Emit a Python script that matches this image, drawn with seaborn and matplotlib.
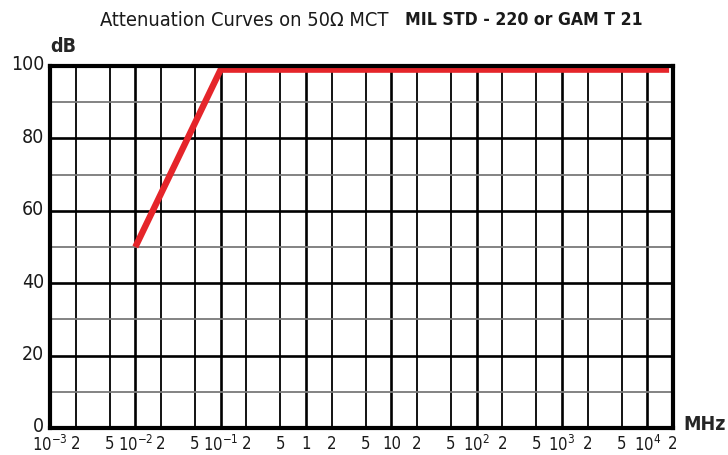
import matplotlib
matplotlib.use("Agg")
import matplotlib.pyplot as plt
import matplotlib.transforms as mtransforms
import seaborn as sns
import pandas as pd
import numpy as np
from matplotlib.ticker import FixedLocator, FixedFormatter, NullLocator

# Data
freq_mhz = [0.01, 0.1, 1.8e4]
atten_db = [50, 99, 99]

decades = [1e-3, 1e-2, 1e-1, 1, 10, 1e2, 1e3, 1e4]
decade_labels = [r"$10^{-3}$", r"$10^{-2}$", r"$10^{-1}$", "1", "10", r"$10^{2}$", r"$10^{3}$", r"$10^{4}$"]
y_ticks = [0, 20, 40, 60, 80, 100]
title_light = "Attenuation Curves on 50Ω MCT"
title_bold = "MIL STD - 220 or GAM T 21"

sns.set_theme(style="white")
plt.rcParams['font.family'] = ['DejaVu Sans']
plt.rcParams['font.stretch'] = 'condensed'
plt.rcParams['mathtext.fontset'] = 'dejavusans'

fig = plt.figure(figsize=(7.28, 4.55), dpi=100)
ax = fig.add_axes([50/728, 1-428/455, (673-50)/728, (428-66)/455])

df = pd.DataFrame({"MHz": freq_mhz, "dB": atten_db})
sns.lineplot(data=df, x="MHz", y="dB", ax=ax, color="#e5252a", linewidth=4.6,
             solid_capstyle="butt", zorder=5)

ax.set_xscale("log")
ax.set_xlim(1e-3, 2e4)
ax.set_ylim(0, 100)

# grid lines
for i, d in enumerate(decades):
    if 0 < i:
        ax.axvline(d, color="black", lw=1.9, zorder=2)
    for m in (2, 5):
        ax.axvline(d*m, color="black", lw=1.3, zorder=2)
for yv in range(10, 100, 10):
    if yv % 20 == 0:
        ax.axhline(yv, color="black", lw=1.9, zorder=2)
    else:
        ax.axhline(yv, color="#7a7a7a", lw=1.3, zorder=2)

# tick labels
pos, labs = [], []
for d, lab in zip(decades, decade_labels):
    pos += [d, d*2]
    labs += [lab, "2"]
    if d < 1e4:
        pos.append(d*5)
        labs.append("5")
ax.xaxis.set_major_locator(FixedLocator(pos))
ax.xaxis.set_major_formatter(FixedFormatter(labs))
ax.xaxis.set_minor_locator(NullLocator())
ax.set_yticks(y_ticks)
ax.tick_params(axis="x", length=0, labelsize=12, colors="#1a1a1a", pad=5)
ax.tick_params(axis="y", length=0, labelsize=14, colors="#1a1a1a", pad=4)

for s in ax.spines.values():
    s.set_visible(True)
    s.set_color("black")
    s.set_linewidth(3)
    s.set_zorder(6)

ax.set_xlabel("")
ax.set_ylabel("")

# nudge y tick labels slightly upward like the reference
offset = mtransforms.ScaledTranslation(0, 3/100, fig.dpi_scale_trans)
for lab in ax.get_yticklabels():
    lab.set_transform(lab.get_transform() + offset)

fig.text(50/728, 1-47/455, "dB", fontsize=14, fontweight="bold", ha="left", va="center")
fig.text(683/728, 1-425/455, "MHz", fontsize=14, fontweight="bold", ha="left", va="center")

fig.text(100/728, 1-20/455, title_light, fontsize=14.4, ha="left", va="center", color="#1a1a1a")
fig.text(405/728, 1-20/455, title_bold, fontsize=12.6, fontweight="bold", ha="left", va="center", color="#1a1a1a")

fig.savefig("out.png", dpi=100)
